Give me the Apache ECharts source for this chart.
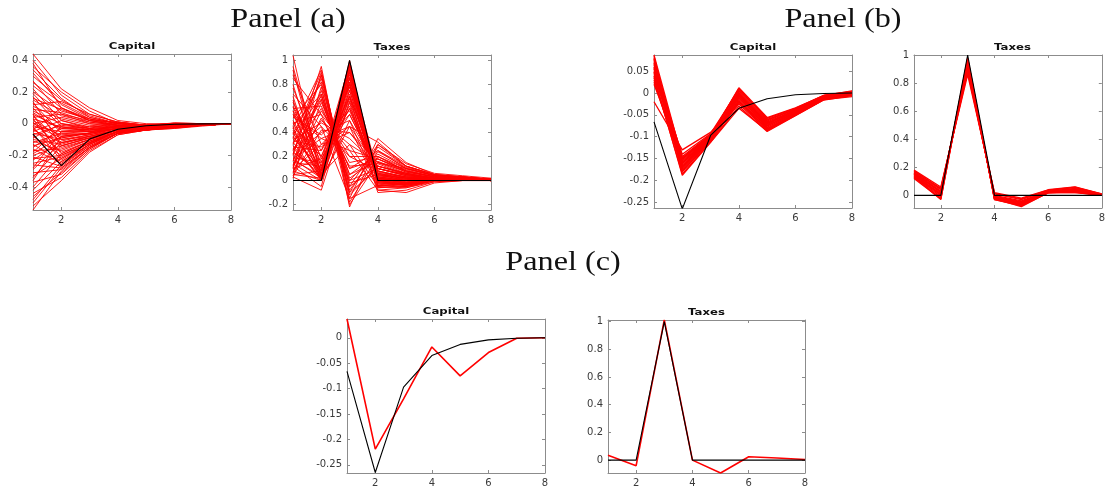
<!DOCTYPE html>
<html>
<head>
<meta charset="utf-8">
<title>Impulse responses — Capital / Taxes</title>
<script src="https://cdn.jsdelivr.net/npm/echarts@6/dist/echarts.min.js"></script>
<style>
  html, body { margin: 0; padding: 0; background: #fff; }
  #chart { width: 1108px; height: 488px; }
</style>
</head>
<body>
<div id="chart"></div>
<script>
// ---------------------------------------------------------------------------
// Data. Horizon 1..8; black = true response, red = draws.
// ---------------------------------------------------------------------------
const STEPS = [1, 2, 3, 4, 5, 6, 7, 8];
const X_TICKS = [2, 4, 6, 8];

const CAPITAL_TRUE = [-0.066, -0.265, -0.097, -0.035, -0.013, -0.004, -0.001, 0];
const TAXES_TRUE = [0, 0, 1, 0, 0, 0, 0, 0];

// Panel (a): wide fan of draws
const A_CAPITAL = [
  [0.44, 0.22, 0.10, 0.02, 0.00, 0.00, 0.00, 0],
  [0.40, 0.18, 0.06, 0.01, -0.01, 0.00, 0.00, 0],
  [0.38, 0.10, 0.02, -0.01, -0.01, 0.00, 0.00, 0],
  [0.36, 0.20, 0.08, 0.00, -0.01, -0.01, 0.00, 0],
  [0.34, 0.16, 0.04, 0.00, -0.01, -0.01, 0.00, 0],
  [0.32, 0.12, 0.03, -0.01, -0.01, -0.01, 0.00, 0],
  [0.30, 0.15, 0.05, 0.00, -0.02, -0.01, -0.005, 0],
  [0.27, 0.06, 0.00, -0.02, -0.02, -0.01, 0.00, 0],
  [0.26, 0.13, 0.04, 0.00, -0.01, 0.00, 0.00, 0],
  [0.24, 0.10, 0.02, -0.01, -0.02, -0.01, 0.00, 0],
  [0.22, 0.02, -0.03, -0.02, -0.02, -0.01, -0.005, 0],
  [0.20, 0.08, 0.03, 0.00, -0.01, 0.00, 0.00, 0],
  [0.19, 0.00, -0.04, -0.02, -0.02, -0.01, 0.00, 0],
  [0.17, -0.02, -0.05, -0.03, -0.02, -0.01, 0.00, 0],
  [0.16, 0.09, 0.02, -0.01, -0.02, -0.01, 0.00, 0],
  [0.15, 0.05, 0.01, -0.01, -0.02, -0.01, 0.00, 0],
  [0.14, -0.14, -0.09, -0.04, -0.03, -0.02, -0.01, 0],
  [0.13, -0.06, -0.07, -0.03, -0.02, -0.015, -0.005, 0],
  [0.12, 0.14, 0.06, 0.01, -0.01, 0.00, 0.00, 0],
  [0.11, 0.03, -0.01, -0.02, -0.02, -0.01, 0.00, 0],
  [0.10, -0.10, -0.08, -0.04, -0.03, -0.02, -0.01, 0],
  [0.09, 0.07, 0.01, -0.01, -0.02, -0.01, 0.00, 0],
  [0.08, 0.00, -0.02, -0.01, -0.02, -0.01, 0.00, 0],
  [0.07, -0.04, -0.05, -0.03, -0.02, -0.01, 0.00, 0],
  [0.06, -0.22, -0.12, -0.05, -0.03, -0.02, -0.01, 0],
  [0.06, -0.03, -0.04, -0.02, -0.02, -0.01, 0.00, 0],
  [0.05, -0.12, -0.09, -0.04, -0.03, -0.02, -0.01, 0],
  [0.04, 0.06, 0.02, 0.01, -0.01, 0.00, 0.00, 0],
  [0.03, -0.19, -0.11, -0.05, -0.03, -0.02, -0.01, 0],
  [0.03, -0.02, -0.03, 0.01, -0.01, 0.005, 0.00, 0],
  [0.02, -0.08, -0.06, -0.03, -0.02, -0.01, 0.00, 0],
  [0.01, -0.15, -0.10, -0.05, -0.03, -0.02, -0.01, 0],
  [0.00, 0.04, 0.00, -0.01, -0.02, -0.01, 0.00, 0],
  [0.00, -0.07, -0.06, -0.03, -0.02, -0.01, 0.00, 0],
  [-0.01, -0.09, -0.06, 0.01, -0.02, 0.005, 0.00, 0],
  [-0.02, -0.05, -0.05, -0.02, -0.02, -0.01, 0.00, 0],
  [-0.02, -0.23, -0.12, -0.05, -0.03, -0.02, -0.01, 0],
  [-0.03, -0.18, -0.11, -0.05, -0.03, -0.02, -0.01, 0],
  [-0.04, 0.10, 0.03, 0.00, -0.01, 0.00, 0.00, 0],
  [-0.04, -0.12, -0.08, -0.04, -0.02, -0.015, -0.005, 0],
  [-0.05, 0.02, -0.02, -0.02, -0.02, -0.01, 0.00, 0],
  [-0.06, -0.10, -0.07, -0.03, -0.02, -0.015, -0.005, 0],
  [-0.07, -0.26, -0.13, -0.05, -0.03, -0.02, -0.01, 0],
  [-0.07, -0.01, -0.03, -0.02, -0.02, -0.01, 0.00, 0],
  [-0.08, -0.20, -0.12, -0.05, -0.03, -0.02, -0.01, 0],
  [-0.09, 0.00, -0.03, -0.02, -0.02, -0.01, 0.00, 0],
  [-0.10, -0.13, -0.08, -0.04, -0.03, -0.02, -0.01, 0],
  [-0.11, -0.17, -0.10, -0.04, -0.03, -0.02, -0.01, 0],
  [-0.12, -0.06, -0.05, -0.03, -0.02, -0.01, 0.00, 0],
  [-0.13, -0.24, -0.13, -0.05, -0.03, -0.02, -0.01, 0],
  [-0.14, -0.09, -0.06, -0.03, -0.02, -0.01, 0.00, 0],
  [-0.15, -0.03, -0.04, -0.02, -0.02, -0.01, 0.00, 0],
  [-0.16, -0.25, -0.13, -0.05, -0.03, -0.02, -0.01, 0],
  [-0.17, -0.16, -0.10, -0.04, -0.03, -0.02, -0.01, 0],
  [-0.18, -0.02, -0.04, -0.02, -0.02, -0.01, 0.00, 0],
  [-0.19, -0.08, -0.06, -0.03, -0.02, -0.015, 0.00, 0],
  [-0.20, -0.14, -0.09, -0.04, -0.03, -0.02, -0.01, 0],
  [-0.21, -0.27, -0.14, -0.06, -0.04, -0.02, -0.01, 0],
  [-0.22, -0.20, -0.12, -0.05, -0.03, -0.02, -0.01, 0],
  [-0.23, -0.11, -0.07, -0.04, -0.03, -0.02, -0.01, 0],
  [-0.25, -0.21, -0.12, -0.05, -0.03, -0.02, -0.01, 0],
  [-0.26, -0.28, -0.15, -0.06, -0.04, -0.02, -0.01, 0],
  [-0.28, -0.05, -0.04, -0.03, -0.02, -0.01, 0.00, 0],
  [-0.29, -0.12, -0.08, -0.04, -0.03, -0.02, -0.01, 0],
  [-0.31, -0.29, -0.15, -0.06, -0.04, -0.02, -0.01, 0],
  [-0.33, -0.22, -0.12, -0.05, -0.03, -0.02, -0.01, 0],
  [-0.34, -0.14, -0.09, -0.04, -0.03, -0.02, -0.01, 0],
  [-0.36, -0.08, -0.06, -0.03, -0.02, -0.015, -0.005, 0],
  [-0.37, -0.32, -0.16, -0.06, -0.04, -0.025, -0.01, 0],
  [-0.40, -0.19, -0.11, -0.05, -0.03, -0.02, -0.01, 0],
  [-0.42, -0.24, -0.13, -0.06, -0.04, -0.02, -0.01, 0],
  [-0.44, -0.34, -0.17, -0.07, -0.04, -0.03, -0.01, 0],
  [-0.46, -0.31, -0.16, -0.06, -0.04, -0.025, -0.01, 0],
  [-0.48, -0.26, -0.14, -0.06, -0.04, -0.02, -0.01, 0],
  [-0.50, -0.28, -0.15, -0.06, -0.04, -0.02, -0.01, 0],
  [-0.52, -0.36, -0.18, -0.07, -0.04, -0.03, -0.015, 0],
  [-0.545, -0.30, -0.15, -0.06, -0.04, -0.02, -0.01, 0],
];

const A_TAXES = [
  [1.04, 0.02, 0.95, 0.05, 0.02, 0.01, 0.02, 0.01],
  [0.95, 0.10, 0.70, 0.10, 0.05, 0.02, 0.02, 0.01],
  [0.92, 0.05, 0.75, 0.02, 0.00, 0.01, 0.01, 0.00],
  [0.88, 0.30, 0.40, 0.15, 0.08, 0.03, 0.02, 0.01],
  [0.85, 0.55, 0.00, 0.10, 0.05, 0.02, 0.02, 0.01],
  [0.80, 0.05, 0.85, 0.02, 0.00, 0.01, 0.01, 0.00],
  [0.77, 0.18, 0.55, 0.07, 0.03, 0.01, 0.02, 0.00],
  [0.72, 0.45, 0.20, 0.20, 0.10, 0.04, 0.03, 0.01],
  [0.70, 0.00, 0.50, -0.04, -0.03, 0.00, 0.01, 0.00],
  [0.67, 0.03, 0.92, -0.01, -0.03, 0.00, 0.01, 0.00],
  [0.65, 0.15, 0.60, 0.08, 0.03, 0.02, 0.02, 0.01],
  [0.62, 0.20, 0.80, 0.04, 0.02, 0.01, 0.01, 0.00],
  [0.61, 0.12, 0.72, 0.03, 0.00, 0.01, 0.01, 0.00],
  [0.60, 0.62, 0.10, 0.25, 0.12, 0.05, 0.03, 0.01],
  [0.58, 0.00, 0.98, -0.02, -0.03, 0.00, 0.01, 0.00],
  [0.58, 0.25, 0.78, 0.06, 0.02, 0.01, 0.01, 0.00],
  [0.55, 0.35, 0.45, 0.12, 0.06, 0.02, 0.02, 0.01],
  [0.55, 0.08, 0.68, 0.00, -0.01, 0.01, 0.01, 0.00],
  [0.53, 0.38, 0.58, 0.06, 0.03, 0.01, 0.02, 0.00],
  [0.52, 0.80, -0.05, 0.30, 0.14, 0.06, 0.04, 0.02],
  [0.50, 0.08, 0.90, 0.00, -0.02, 0.01, 0.01, 0.00],
  [0.48, 0.55, 0.25, 0.18, 0.08, 0.03, 0.02, 0.01],
  [0.48, 0.05, 0.30, -0.05, -0.02, 0.00, 0.01, 0.00],
  [0.46, 0.72, 0.02, 0.18, 0.09, 0.03, 0.02, 0.01],
  [0.45, 0.20, 0.70, 0.05, 0.00, 0.01, 0.01, 0.00],
  [0.44, 0.00, 0.82, 0.03, 0.01, 0.01, 0.01, 0.00],
  [0.43, 0.92, -0.15, 0.35, 0.15, 0.05, 0.03, 0.01],
  [0.42, 0.03, 0.93, 0.01, -0.02, 0.00, 0.01, 0.00],
  [0.40, 0.02, 0.95, -0.03, -0.05, 0.00, 0.01, 0.00],
  [0.39, 0.82, -0.08, 0.24, 0.11, 0.04, 0.03, 0.01],
  [0.38, 0.70, 0.05, 0.22, 0.10, 0.04, 0.03, 0.01],
  [0.37, 0.06, 0.86, 0.03, 0.00, 0.01, 0.01, 0.00],
  [0.36, 0.10, 0.80, 0.02, -0.02, 0.01, 0.02, 0.00],
  [0.35, 0.90, -0.12, 0.12, 0.06, 0.02, 0.02, 0.01],
  [0.34, 0.48, 0.35, 0.12, 0.05, 0.02, 0.02, 0.01],
  [0.33, 0.28, 0.45, 0.32, 0.12, 0.05, 0.03, 0.01],
  [0.32, 0.00, 1.00, -0.05, -0.06, 0.00, 0.01, 0.00],
  [0.31, 0.68, -0.02, 0.05, 0.02, 0.01, 0.01, 0.00],
  [0.30, 0.85, -0.10, 0.28, 0.12, 0.05, 0.03, 0.01],
  [0.29, 0.01, 0.96, -0.01, -0.03, 0.00, 0.01, 0.00],
  [0.28, 0.25, 0.62, 0.06, 0.01, 0.01, 0.01, 0.00],
  [0.27, 0.02, 0.90, 0.01, 0.00, 0.00, 0.01, 0.00],
  [0.26, 0.60, 0.15, 0.20, 0.08, 0.03, 0.02, 0.01],
  [0.26, 0.45, -0.15, -0.04, -0.03, 0.00, 0.01, 0.00],
  [0.25, 0.67, 0.05, 0.16, 0.07, 0.03, 0.02, 0.01],
  [0.24, 0.05, 0.88, -0.02, -0.04, 0.00, 0.01, 0.00],
  [0.23, 0.09, 0.82, 0.04, 0.01, 0.01, 0.01, 0.00],
  [0.22, 0.95, -0.22, 0.30, 0.12, 0.04, 0.02, 0.01],
  [0.21, 0.88, -0.05, 0.12, 0.06, 0.02, 0.02, 0.01],
  [0.20, 0.40, 0.50, 0.10, 0.04, 0.02, 0.02, 0.01],
  [0.19, 0.15, 0.97, -0.02, -0.03, 0.00, 0.01, 0.00],
  [0.18, 0.02, 0.75, 0.00, -0.03, 0.00, 0.01, 0.00],
  [0.18, 0.35, 0.25, -0.08, -0.06, -0.01, 0.00, 0.00],
  [0.17, 0.04, 0.78, -0.01, -0.02, 0.00, 0.01, 0.00],
  [0.16, 0.75, 0.00, 0.25, 0.10, 0.04, 0.03, 0.01],
  [0.15, 0.12, 0.92, -0.04, -0.05, 0.00, 0.01, 0.00],
  [0.14, 0.00, 0.66, 0.02, -0.01, 0.00, 0.01, 0.00],
  [0.13, 0.50, 0.30, 0.15, 0.06, 0.02, 0.02, 0.01],
  [0.12, -0.05, 0.85, 0.02, -0.02, 0.01, 0.01, 0.00],
  [0.12, 0.72, -0.10, 0.10, 0.04, 0.02, 0.02, 0.01],
  [0.11, 0.58, 0.20, 0.08, 0.03, 0.02, 0.02, 0.01],
  [0.10, 0.88, -0.18, 0.20, 0.08, 0.03, 0.02, 0.01],
  [0.10, 0.18, 0.60, 0.00, -0.04, 0.00, 0.01, 0.00],
  [0.09, 0.30, 0.55, 0.08, 0.02, 0.01, 0.02, 0.00],
  [0.08, 0.00, 0.70, -0.08, -0.10, -0.02, 0.00, 0.00],
  [0.07, 0.52, 0.12, 0.14, 0.05, 0.02, 0.02, 0.01],
  [0.06, 0.65, 0.10, 0.18, 0.07, 0.03, 0.02, 0.01],
  [0.05, 0.08, 0.98, -0.06, -0.04, 0.00, 0.01, 0.00],
  [0.05, 0.02, 0.45, -0.06, -0.05, 0.00, 0.01, 0.00],
  [0.04, 0.42, 0.40, 0.10, 0.04, 0.02, 0.02, 0.01],
  [0.03, -0.08, 0.65, -0.10, -0.08, -0.01, 0.00, 0.00],
  [0.02, 0.78, -0.20, 0.15, 0.10, 0.04, 0.02, 0.01],
];

// Panel (b): tight band of draws
const B_CAPITAL = [
  [0.087, -0.150, -0.098, 0.010, -0.060, -0.038, -0.008, 0.004],
  [0.080, -0.160, -0.102, 0.000, -0.068, -0.042, -0.010, 0.002],
  [0.075, -0.170, -0.105, -0.010, -0.075, -0.045, -0.012, 0.000],
  [0.070, -0.145, -0.095, 0.005, -0.062, -0.036, -0.006, 0.003],
  [0.065, -0.180, -0.110, -0.020, -0.080, -0.048, -0.014, -0.002],
  [0.060, -0.155, -0.100, -0.005, -0.070, -0.040, -0.009, 0.001],
  [0.055, -0.175, -0.108, -0.015, -0.078, -0.046, -0.013, -0.001],
  [0.050, -0.140, -0.093, 0.008, -0.058, -0.035, -0.005, 0.004],
  [0.045, -0.165, -0.103, -0.025, -0.085, -0.050, -0.015, -0.004],
  [0.040, -0.150, -0.098, -0.008, -0.072, -0.042, -0.010, 0.000],
  [0.035, -0.185, -0.112, -0.030, -0.088, -0.052, -0.016, -0.006],
  [0.030, -0.158, -0.100, -0.002, -0.066, -0.039, -0.008, 0.002],
  [0.025, -0.168, -0.104, -0.012, -0.074, -0.044, -0.011, -0.001],
  [0.020, -0.148, -0.096, 0.002, -0.064, -0.037, -0.007, 0.003],
  [0.084, -0.172, -0.106, -0.018, -0.082, -0.047, -0.013, -0.003],
  [0.078, -0.162, -0.101, -0.006, -0.070, -0.041, -0.009, 0.001],
  [0.068, -0.152, -0.099, 0.012, -0.056, -0.034, -0.006, 0.005],
  [0.058, -0.178, -0.109, -0.022, -0.083, -0.049, -0.014, -0.005],
  [0.048, -0.160, -0.102, -0.004, -0.069, -0.040, -0.010, 0.000],
  [0.038, -0.188, -0.113, -0.035, -0.086, -0.051, -0.015, -0.008],
  [-0.020, -0.130, -0.090, -0.020, -0.075, -0.044, -0.011, -0.002],
];

const B_TAXES = [
  [0.180, 0.060, 0.860, 0.020, -0.020, 0.040, 0.060, 0.010],
  [0.170, 0.050, 0.880, 0.010, -0.030, 0.035, 0.055, 0.008],
  [0.165, 0.040, 0.900, 0.000, -0.040, 0.030, 0.050, 0.006],
  [0.160, 0.030, 0.920, -0.010, -0.050, 0.028, 0.045, 0.005],
  [0.155, 0.020, 0.940, -0.015, -0.055, 0.025, 0.040, 0.004],
  [0.150, 0.010, 0.950, -0.020, -0.060, 0.022, 0.035, 0.003],
  [0.145, 0.000, 0.960, -0.025, -0.065, 0.020, 0.030, 0.002],
  [0.140, -0.010, 0.970, -0.030, -0.070, 0.020, 0.025, 0.001],
  [0.135, -0.020, 0.980, -0.030, -0.075, 0.018, 0.022, 0.000],
  [0.130, -0.030, 0.975, -0.025, -0.080, 0.020, 0.020, 0.000],
  [0.125, 0.015, 0.930, -0.005, -0.045, 0.030, 0.040, 0.005],
  [0.175, 0.045, 0.890, 0.015, -0.025, 0.038, 0.058, 0.009],
  [0.120, -0.025, 0.965, -0.020, -0.070, 0.020, 0.025, 0.001],
  [0.158, 0.025, 0.910, -0.012, -0.050, 0.026, 0.042, 0.004],
  [0.148, 0.005, 0.955, -0.018, -0.062, 0.024, 0.034, 0.003],
];

// Panel (c): single estimate
const C_CAPITAL = [0.037, -0.219, -0.120, -0.018, -0.075, -0.029, -0.001, 0];
const C_TAXES = [0.035, -0.040, 1.012, 0.000, -0.093, 0.024, 0.015, 0.005];

// ---------------------------------------------------------------------------
// Layout: one box per subplot (pixel positions of the axes box)
// ---------------------------------------------------------------------------
const PANELS = [
  { title: "Capital", box: [33, 54, 198, 156], y: [-0.545, 0.44], yTicks: [-0.4, -0.2, 0, 0.2, 0.4],
    draws: A_CAPITAL, drawWidth: 0.9, truth: CAPITAL_TRUE },
  { title: "Taxes", box: [293, 55, 198, 155], y: [-0.245, 1.045], yTicks: [-0.2, 0, 0.2, 0.4, 0.6, 0.8, 1],
    draws: A_TAXES, drawWidth: 0.9, truth: TAXES_TRUE },
  { title: "Capital", box: [654, 55, 198, 153], y: [-0.263, 0.087], yTicks: [-0.25, -0.2, -0.15, -0.1, -0.05, 0, 0.05],
    draws: B_CAPITAL, drawWidth: 1.3, truth: CAPITAL_TRUE },
  { title: "Taxes", box: [914, 55, 197, 153], y: [-0.09, 1.0], yTicks: [0, 0.2, 0.4, 0.6, 0.8, 1],
    draws: B_TAXES, drawWidth: 1.3, truth: TAXES_TRUE },
  { title: "Capital", box: [347, 319, 198, 154], y: [-0.266, 0.037], yTicks: [-0.25, -0.2, -0.15, -0.1, -0.05, 0],
    draws: [C_CAPITAL], drawWidth: 1.6, truth: CAPITAL_TRUE },
  { title: "Taxes", box: [608, 320, 197, 153], y: [-0.093, 1.012], yTicks: [0, 0.2, 0.4, 0.6, 0.8, 1],
    draws: [C_TAXES], drawWidth: 1.6, truth: TAXES_TRUE },
];

const HEADINGS = [
  { text: "Panel (a)", x: 288, y: 20 },
  { text: "Panel (b)", x: 843, y: 20 },
  { text: "Panel (c)", x: 563, y: 263 },
];

const BOX = "#8c8c8c";
const LABEL = "#3a3a3a";
const fmt = (v) => String(+v.toFixed(3));

const grid = [], xAxis = [], yAxis = [], series = [], graphic = [];

PANELS.forEach((p, i) => {
  const [left, top, width, height] = p.box;
  grid.push({ left, top, width, height, containLabel: false });

  const line = { show: true, onZero: false, lineStyle: { color: BOX, width: 1 } };
  const tick = (vals) => ({ show: true, inside: true, length: 3, customValues: vals, lineStyle: { color: BOX } });
  const label = (vals) => ({ customValues: vals, formatter: fmt, color: LABEL, fontSize: 10, fontFamily: "DejaVu Sans", margin: 5 });

  // bottom/left carry labels; top/right close the box with inside ticks
  xAxis.push({
    gridIndex: i, type: "value", min: 1, max: 8, position: "bottom",
    axisLine: line, axisTick: tick(X_TICKS), splitLine: { show: false }, axisLabel: label(X_TICKS),
  });
  xAxis.push({
    gridIndex: i, type: "value", min: 1, max: 8, position: "top",
    axisLine: line, axisTick: tick(X_TICKS), splitLine: { show: false }, axisLabel: { show: false },
  });
  yAxis.push({
    gridIndex: i, type: "value", min: p.y[0], max: p.y[1], position: "left",
    axisLine: line, axisTick: tick(p.yTicks), splitLine: { show: false }, axisLabel: label(p.yTicks),
  });
  yAxis.push({
    gridIndex: i, type: "value", min: p.y[0], max: p.y[1], position: "right",
    axisLine: line, axisTick: tick(p.yTicks), splitLine: { show: false }, axisLabel: { show: false },
  });

  const toPts = (vals) => STEPS.map((x, k) => [x, vals[k]]);
  const base = { type: "line", xAxisIndex: 2 * i, yAxisIndex: 2 * i, showSymbol: false, symbol: "none", silent: true, clip: true };

  p.draws.forEach((d) => {
    series.push({ ...base, data: toPts(d), lineStyle: { color: "#ff0000", width: p.drawWidth } });
  });
  series.push({ ...base, data: toPts(p.truth), z: 3, lineStyle: { color: "#000", width: 1.1 } });

  graphic.push({
    type: "text", x: left + width / 2, y: top - 7, scaleX: 1.3,
    style: { text: p.title, fill: "#111", font: "bold 9px 'DejaVu Sans'", align: "center", verticalAlign: "middle" },
  });
});

HEADINGS.forEach((h) => {
  graphic.push({
    type: "text", x: h.x, y: h.y, scaleX: 1.15,
    style: { text: h.text, fill: "#111", font: "28px 'Liberation Serif'", align: "center", verticalAlign: "middle" },
  });
});

const chart = echarts.init(document.getElementById("chart"), null, { renderer: "canvas" });
chart.setOption({ animation: false, grid, xAxis, yAxis, series, graphic });
</script>
</body>
</html>
